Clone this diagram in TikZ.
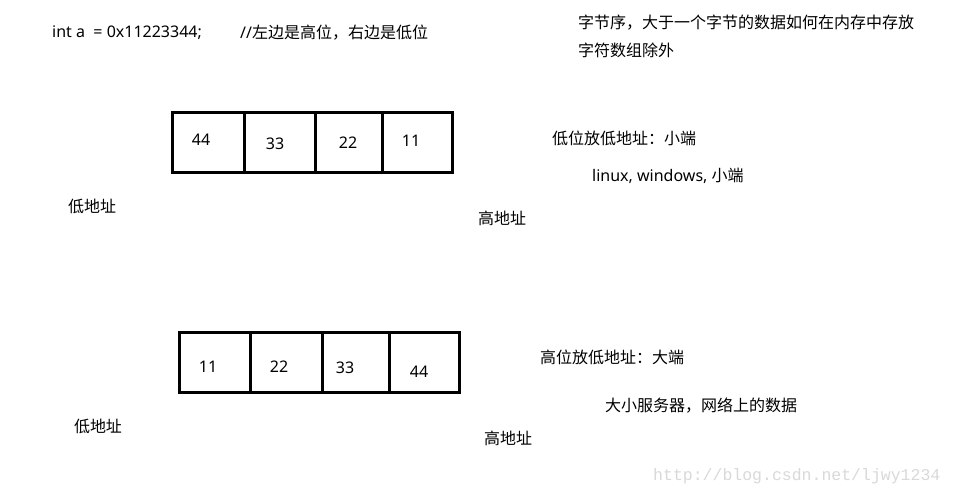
\documentclass[tikz,border=0pt]{standalone}
\usepackage{fontspec}
\setmainfont{Noto Sans}
\newfontfamily\cjk{Noto Sans CJK SC}
\newfontfamily\markfont{Liberation Mono}
\usepackage{tikz}
\usetikzlibrary{positioning}

\begin{document}
\begin{tikzpicture}[
  x=1pt, y=-1pt,
  txt/.style={anchor=west, inner sep=0pt, font=\fontsize{16}{18}\selectfont},
  num/.style={inner sep=0pt, font=\fontsize{16}{18}\selectfont},
  cell/.style={draw, line width=3pt, anchor=north west, inner sep=0pt, outer sep=0pt, minimum height=60pt}
]
\useasboundingbox[fill=white] (0,0) rectangle (954,498);

% heading lines
\node[txt] (decl) at (52,33) {int a \ = 0x11223344;};
\node[txt] (note) at (240,33) {//{\cjk 左边是高位，右边是低位}};
\node[txt, font=\cjk\fontsize{16}{18}\selectfont] (order) at (578,23) {字节序，大于一个字节的数据如何在内存中存放};
\node[txt, font=\cjk\fontsize{16}{18}\selectfont] (except) at (578,50) {字符数组除外};

% little endian
\node[cell, minimum width=72pt] (l1) at (172,112) {};
\node[cell, minimum width=71pt] (l2) at (244,112) {};
\node[cell, minimum width=67pt] (l3) at (315,112) {};
\node[cell, minimum width=70pt] (l4) at (382,112) {};
\node[num] (l1n) at (201,140) {44};
\node[num] (l2n) at (275,144) {33};
\node[num] (l3n) at (348,143) {22};
\node[num] (l4n) at (411,141) {11};
\node[num, font=\cjk\fontsize{16}{18}\selectfont] (llow) at (92,206) {低地址};
\node[num, font=\cjk\fontsize{16}{18}\selectfont] (lhigh) at (502,218) {高地址};
\node[txt, font=\cjk\fontsize{16}{18}\selectfont] (little) at (552,138) {低位放低地址：小端};
\node[txt] (linux) at (592,176) {linux, windows, {\cjk 小端}};

% big endian
\node[cell, minimum width=71pt] (b1) at (179,332) {};
\node[cell, minimum width=72pt] (b2) at (250,332) {};
\node[cell, minimum width=67pt] (b3) at (322,332) {};
\node[cell, minimum width=70pt] (b4) at (389,332) {};
\node[num] (b1n) at (208,367) {11};
\node[num] (b2n) at (279,367) {22};
\node[num] (b3n) at (345,368) {33};
\node[num] (b4n) at (419,372) {44};
\node[num, font=\cjk\fontsize{16}{18}\selectfont] (blow) at (98,426) {低地址};
\node[num, font=\cjk\fontsize{16}{18}\selectfont] (bhigh) at (508,438) {高地址};
\node[txt, font=\cjk\fontsize{16}{18}\selectfont] (big) at (540,357) {高位放低地址：大端};
\node[txt, font=\cjk\fontsize{16}{18}\selectfont] (server) at (605,406) {大小服务器，网络上的数据};

\node[txt, font=\markfont\fontsize{16.5}{20}\selectfont, text=black!15] (mark) at (653,476) {http://blog.csdn.net/ljwy1234};
\end{tikzpicture}
\end{document}
